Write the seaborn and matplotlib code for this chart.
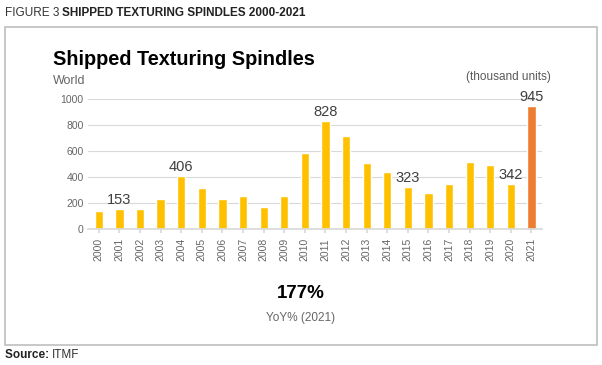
import seaborn as sns
import pandas as pd
import matplotlib.pyplot as plt
from matplotlib.patches import Rectangle

years = [str(y) for y in range(2000, 2022)]
spindles = [138, 153, 151, 228, 406, 315, 228, 256, 172, 249, 585,
            828, 718, 505, 438, 323, 277, 344, 513, 492, 342, 945]
labelled = ['2001', '2004', '2011', '2015', '2020', '2021']

df = pd.DataFrame({'Year': years, 'Spindles': spindles})
df['Kind'] = ['latest' if y == '2021' else 'past' for y in years]

sns.set_theme(style="white")
plt.rcParams['font.family'] = ['Liberation Sans', 'DejaVu Sans']

fig = plt.figure(figsize=(6.02, 3.65), dpi=100)
ax = fig.add_axes([0.147, 0.373, 0.753, 0.356])

sns.barplot(data=df, x='Year', y='Spindles', hue='Kind',
            palette={'past': '#FFC000', 'latest': '#ED7D31'},
            saturation=1, width=0.4, legend=False, ax=ax)

ax.set_ylim(0, 1000)
ax.set_xlim(-0.5, 21.5)
ax.set_yticks([0, 200, 400, 600, 800, 1000])
ax.yaxis.grid(True, color='#d9d9d9', linewidth=0.8)
ax.set_axisbelow(True)
for s in ['top', 'right', 'left']:
    ax.spines[s].set_visible(False)
ax.spines['bottom'].set_color('#d9d9d9')
ax.tick_params(axis='x', rotation=90, labelsize=7.5, colors='#666666',
               length=3, color='#d9d9d9', bottom=True)
ax.tick_params(axis='y', labelsize=7.5, colors='#666666', length=0)
ax.set_xlabel('')
ax.set_ylabel('')

for i, (y, v) in enumerate(zip(years, spindles)):
    if y in labelled:
        ax.text(i, v + 15, str(v), ha='center', va='bottom', fontsize=10.5,
                color='#404040', clip_on=False)

# outer frame and texts
fig.patches.append(Rectangle((5 / 602, 1 - 345 / 365), 592 / 602, 318 / 365,
                             transform=fig.transFigure, fill=False,
                             edgecolor='#bfbfbf', linewidth=1.2))
t1 = fig.text(0.008, 0.965, 'FIGURE 3 ', fontsize=8.5, color='#333333',
              va='center')
ax.annotate('SHIPPED TEXTURING SPINDLES 2000-2021', xy=(1, 0.5),
            xycoords=t1, fontsize=8.5, fontweight='bold', color='#222222',
            va='center', annotation_clip=False)
fig.text(0.088, 0.838, 'Shipped Texturing Spindles', fontsize=14.3,
         fontweight='bold', color='black', va='center')
fig.text(0.088, 0.778, 'World', fontsize=9, color='#666666', va='center')
fig.text(0.915, 0.79, '(thousand units)', fontsize=8.5, color='#595959',
         ha='right', va='center')
fig.text(0.500, 0.197, '177%', fontsize=13.5, fontweight='bold',
         color='black', ha='center', va='center')
fig.text(0.500, 0.128, 'YoY% (2021)', fontsize=8.5, color='#666666',
         ha='center', va='center')
t2 = fig.text(0.008, 0.028, 'Source: ', fontsize=8.5, fontweight='bold',
              color='#222222', va='center')
ax.annotate('ITMF', xy=(1, 0.5), xycoords=t2, fontsize=8.5,
            color='#333333', va='center', annotation_clip=False)

fig.savefig('out.png', dpi=100)
